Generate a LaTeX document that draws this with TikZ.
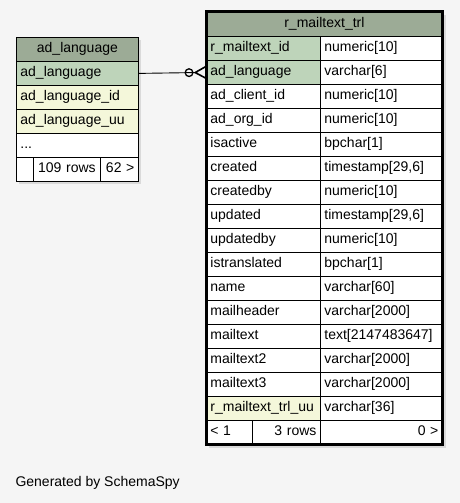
\documentclass[tikz,border=0pt]{standalone}
\usepackage{fontspec}
\setmainfont{Liberation Sans}
\usetikzlibrary{arrows.meta,positioning}

\definecolor{hdrgreen}{HTML}{9CAB96}
\definecolor{keygreen}{HTML}{BED4BA}
\definecolor{idxcream}{HTML}{F4F7DA}
\definecolor{bggray}{HTML}{F5F5F5}
\definecolor{shadowgray}{HTML}{DADADA}

\begin{document}
\begin{tikzpicture}[x=1pt,y=-1pt,
  cell/.style={draw=black, line width=0.8pt, anchor=north west, minimum height=24pt,
    inner xsep=4pt, inner ysep=0pt, text height=10pt, text depth=3pt, align=left,
    font=\fontsize{14}{16}\selectfont},
  fkline/.style={line width=0.9pt, -{Circle[open,length=9pt,width=9pt,line width=1.3pt] Straight Barb[reversed,length=10pt,width=11pt,line width=1.6pt]}}]

\fill[bggray] (0,0) rectangle (460,503);
\useasboundingbox (0,0) rectangle (460,503);

% ad_language table
\fill[shadowgray] (19,40) rectangle (141,184);
\node[cell,fill=hdrgreen,text width=114pt,align=center] (lang) at (16,37) {ad\_language};
\foreach \i/\t/\c in {% row/column/fill
	1/ad\_language/keygreen,
	2/ad\_language\_id/idxcream,
	3/ad\_language\_uu/idxcream}
	\node[cell,fill=\c,text width=114pt] (lang\i) at (16,37+24*\i) {\t};
\node[cell,fill=white,text width=114pt]             (lang4)  at (16,133)  {...};
\node[cell,fill=white,text width=9pt]               (langf1) at (16,157)  {};
\node[cell,fill=white,text width=59pt,align=center] (langf2) at (33,157)  {109 rows};
\node[cell,fill=white,text width=30pt,align=right]  (langf3) at (100,157) {62 >};

% r_mailtext_trl table
\fill[shadowgray] (209,15) rectangle (446,448);
\node[cell,fill=hdrgreen,text width=228pt,align=center] (mt) at (206,12) {r\_mailtext\_trl};
\foreach \i/\col/\typ/\c in {% row/column/type/fill
	1/r\_mailtext\_id/numeric[10]/keygreen,
	2/ad\_language/varchar[6]/keygreen,
	3/ad\_client\_id/numeric[10]/white,
	4/ad\_org\_id/numeric[10]/white,
	5/isactive/bpchar[1]/white,
	6/created/{timestamp[29,6]}/white,
	7/createdby/numeric[10]/white,
	8/updated/{timestamp[29,6]}/white,
	9/updatedby/numeric[10]/white,
	10/istranslated/bpchar[1]/white,
	11/name/varchar[60]/white,
	12/mailheader/varchar[2000]/white,
	13/mailtext/text[2147483647]/white,
	14/mailtext2/varchar[2000]/white,
	15/mailtext3/varchar[2000]/white,
	16/r\_mailtext\_trl\_uu/varchar[36]/idxcream}
{
	\node[cell,fill=\c,text width=106pt]   (mtc\i) at (206,12+24*\i) {\col};
	\node[cell,fill=white,text width=114pt] (mtt\i) at (320,12+24*\i) {\typ};
}
\node[cell,fill=white,text width=38pt]              (mtf1) at (206,420) {< 1};
\node[cell,fill=white,text width=60pt,align=right]  (mtf2) at (252,420) {3 rows};
\node[cell,fill=white,text width=114pt,align=right] (mtf3) at (320,420) {0 >};
\draw[line width=3pt] (mt.north west) rectangle (mtf3.south east);

% foreign key
\draw[fkline] (lang1.east) -- (mtc2.west);

\node[anchor=west,font=\fontsize{14}{16}\selectfont] (gen) at (12,483) {Generated by SchemaSpy};

\end{tikzpicture}
\end{document}
